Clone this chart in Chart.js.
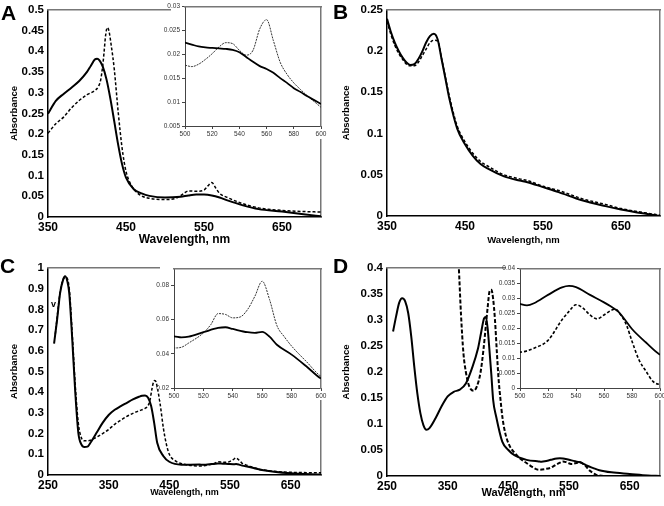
<!DOCTYPE html>
<html>
<head>
<meta charset="utf-8">
<script src="https://cdn.jsdelivr.net/npm/chart.js@4.4.1/dist/chart.umd.min.js"></script>
<style>
  body { margin: 0; background: #fff; }
  #wrap { position: relative; width: 664px; height: 506px; overflow: hidden; }
  #wrap canvas { position: absolute; }
  .tag { position: absolute; font: bold 21px "Liberation Sans", Arial, sans-serif; line-height: 1; color: #000; }
  .mark { position: absolute; font: bold 9px "Liberation Sans", Arial, sans-serif; line-height: 1; color: #000; }
</style>
</head>
<body>
<div id="wrap">
  <canvas id="mainA"></canvas>
  <canvas id="mainB"></canvas>
  <canvas id="mainC"></canvas>
  <canvas id="mainD"></canvas>
  <canvas id="insetA"></canvas>
  <canvas id="insetC"></canvas>
  <canvas id="insetD"></canvas>
  <div class="tag" style="left:1px;top:2px">A</div>
  <div class="tag" style="left:333px;top:1px">B</div>
  <div class="tag" style="left:0px;top:255px">C</div>
  <div class="tag" style="left:333px;top:255px">D</div>
  <div class="mark" style="left:51px;top:300px">v</div>
</div>
<script>
// ---- panel A ----
const aWl = [350, 360, 370, 380, 390, 400, 405, 410, 413, 416, 420, 425, 430, 435, 440, 445, 450, 460, 470, 480, 500, 520, 530, 540, 550, 560, 570, 580, 600, 620, 650, 680, 700];
const aSolid = [0.249, 0.28, 0.297, 0.312, 0.328, 0.35, 0.365, 0.38, 0.382, 0.378, 0.364, 0.332, 0.285, 0.23, 0.174, 0.127, 0.095, 0.067, 0.057, 0.051, 0.047, 0.049, 0.052, 0.054, 0.054, 0.052, 0.047, 0.04, 0.028, 0.019, 0.013, 0.006, 0.002];
const aDashWl = [350, 360, 370, 380, 390, 400, 410, 415, 418, 421, 424, 426, 428, 431, 435, 440, 445, 450, 455, 460, 470, 480, 500, 515, 525, 530, 540, 550, 555, 560, 565, 570, 580, 600, 620, 650, 680, 700];
const aDash = [0.202, 0.225, 0.241, 0.263, 0.281, 0.295, 0.305, 0.316, 0.335, 0.38, 0.44, 0.457, 0.45, 0.415, 0.356, 0.253, 0.166, 0.11, 0.083, 0.067, 0.051, 0.045, 0.042, 0.046, 0.058, 0.063, 0.062, 0.065, 0.075, 0.083, 0.07, 0.057, 0.047, 0.032, 0.022, 0.016, 0.013, 0.012];
const aXTicks = [350, 450, 550, 650];
const aYTicks = [0, 0.05, 0.1, 0.15, 0.2, 0.25, 0.3, 0.35, 0.4, 0.45, 0.5];

// inset A (separate trace, 500-600 nm)
const iaWl = [500, 505, 510, 515, 520, 525, 530, 535, 540, 545, 550, 555, 560, 565, 570, 575, 580, 585, 590, 595, 600];
const iaSolid = [0.0224, 0.022, 0.0216, 0.0214, 0.0213, 0.0212, 0.0211, 0.0209, 0.0204, 0.0194, 0.0184, 0.0175, 0.0169, 0.0161, 0.015, 0.014, 0.0129, 0.0121, 0.0112, 0.0104, 0.0096];
const iaDash = [0.0177, 0.0174, 0.0179, 0.0189, 0.0201, 0.0215, 0.0224, 0.0222, 0.0208, 0.0198, 0.0208, 0.0253, 0.0272, 0.0228, 0.0183, 0.0158, 0.014, 0.0126, 0.0113, 0.0101, 0.0089];
const iXTicks = [500, 520, 540, 560, 580, 600];
const iaYTicks = [0.005, 0.01, 0.015, 0.02, 0.025, 0.03];

// ---- panel B ----
const bWl = [350, 355, 360, 365, 370, 375, 380, 385, 390, 395, 400, 405, 410, 415, 420, 425, 430, 440, 450, 460, 470, 480, 500, 520, 530, 550, 570, 600, 630, 650, 680, 700];
const bSolid = [0.239, 0.223, 0.21, 0.2, 0.192, 0.186, 0.183, 0.184, 0.19, 0.199, 0.21, 0.218, 0.221, 0.214, 0.19, 0.166, 0.142, 0.106, 0.087, 0.073, 0.063, 0.057, 0.048, 0.043, 0.041, 0.035, 0.029, 0.019, 0.012, 0.008, 0.003, 0];
const bDash = [0.236, 0.22, 0.207, 0.197, 0.19, 0.184, 0.182, 0.182, 0.186, 0.194, 0.202, 0.21, 0.213, 0.212, 0.191, 0.168, 0.145, 0.109, 0.09, 0.076, 0.066, 0.06, 0.05, 0.045, 0.043, 0.036, 0.031, 0.021, 0.014, 0.009, 0.004, 0.001];
const bYTicks = [0, 0.05, 0.1, 0.15, 0.2, 0.25];

// ---- panel C ----
const cWl = [260, 265, 270, 275, 278, 282, 285, 290, 295, 300, 305, 310, 315, 320, 330, 340, 350, 360, 370, 380, 390, 400, 405, 410, 415, 420, 425, 430, 440, 450, 470, 500, 505, 510, 520, 530, 535, 540, 550, 555, 560, 565, 570, 580, 590, 600, 650, 700];
const cSolid = [0.635, 0.75, 0.88, 0.944, 0.96, 0.935, 0.88, 0.654, 0.397, 0.204, 0.148, 0.135, 0.137, 0.156, 0.204, 0.252, 0.29, 0.315, 0.333, 0.349, 0.365, 0.378, 0.383, 0.384, 0.373, 0.333, 0.252, 0.156, 0.092, 0.064, 0.05, 0.0502, 0.0496, 0.05, 0.0526, 0.0551, 0.0555, 0.0545, 0.0526, 0.0522, 0.0528, 0.05, 0.0453, 0.0395, 0.0327, 0.0255, 0.008, 0.003];
const cDashWl = [262, 265, 270, 275, 280, 285, 290, 295, 300, 305, 310, 320, 330, 340, 350, 360, 370, 380, 390, 400, 410, 415, 418, 421, 424, 426, 428, 431, 435, 440, 445, 450, 460, 470, 480, 500, 505, 510, 520, 525, 530, 535, 540, 545, 550, 555, 560, 565, 570, 575, 580, 590, 600, 650, 700];
const cDash = [0.68, 0.76, 0.885, 0.945, 0.955, 0.9, 0.68, 0.43, 0.25, 0.18, 0.165, 0.168, 0.183, 0.2, 0.22, 0.245, 0.265, 0.283, 0.298, 0.31, 0.322, 0.335, 0.36, 0.41, 0.45, 0.456, 0.45, 0.41, 0.34, 0.23, 0.15, 0.1, 0.068, 0.055, 0.048, 0.0434, 0.0438, 0.0463, 0.0522, 0.057, 0.0635, 0.063, 0.061, 0.0615, 0.0658, 0.0736, 0.0824, 0.0717, 0.0565, 0.05, 0.0445, 0.0355, 0.0268, 0.013, 0.011];
const cdXTicks = [250, 350, 450, 550, 650];
const cYTicks = [0, 0.1, 0.2, 0.3, 0.4, 0.5, 0.6, 0.7, 0.8, 0.9, 1];
const icYTicks = [0.02, 0.04, 0.06, 0.08];

// ---- panel D ----
const dWl = [260, 265, 270, 275, 280, 285, 290, 295, 300, 305, 310, 315, 320, 330, 340, 350, 360, 370, 380, 390, 400, 405, 410, 413, 416, 419, 422, 425, 430, 440, 450, 460, 480, 500, 505, 510, 520, 530, 535, 540, 550, 560, 565, 570, 575, 580, 590, 600, 620, 650, 680, 700];
const dSolid = [0.278, 0.307, 0.333, 0.342, 0.336, 0.313, 0.268, 0.21, 0.159, 0.121, 0.098, 0.089, 0.092, 0.111, 0.134, 0.153, 0.162, 0.166, 0.178, 0.207, 0.245, 0.275, 0.303, 0.306, 0.283, 0.24, 0.195, 0.146, 0.114, 0.066, 0.05, 0.04, 0.031, 0.0281, 0.0276, 0.0283, 0.0311, 0.0336, 0.0341, 0.0337, 0.0311, 0.0286, 0.0272, 0.0256, 0.0228, 0.0197, 0.0152, 0.0111, 0.007, 0.004, 0.001, 0];
const dDashWl = [360, 365, 368, 372, 376, 380, 384, 388, 393, 398, 404, 409, 413, 416, 419, 422, 425, 428, 431, 434, 437, 440, 445, 453, 460, 470, 480, 490, 500, 510, 520, 530, 535, 540, 545, 550, 555, 560, 565, 568, 572, 576, 580, 585, 590, 595, 600, 610, 650, 700];
const dDash = [0.57, 0.47, 0.41, 0.31, 0.236, 0.2, 0.178, 0.167, 0.164, 0.172, 0.198, 0.243, 0.29, 0.325, 0.355, 0.358, 0.34, 0.3, 0.24, 0.185, 0.148, 0.115, 0.082, 0.056, 0.045, 0.033, 0.025, 0.017, 0.012, 0.0133, 0.0159, 0.0228, 0.0256, 0.0278, 0.0267, 0.0244, 0.0231, 0.0244, 0.0259, 0.0263, 0.0244, 0.0211, 0.0156, 0.0094, 0.0056, 0.0022, 0.0011, 0, 0, 0];
const dYTicks = [0, 0.05, 0.1, 0.15, 0.2, 0.25, 0.3, 0.35, 0.4];
const idYTicks = [0, 0.005, 0.01, 0.015, 0.02, 0.025, 0.03, 0.035, 0.04];

const FONT = '"Liberation Sans", Arial, sans-serif';
const pts = (xs, ys) => xs.map((x, i) => ({ x: x, y: ys[i] }));

// white backing behind the insets
const backing = {
  id: 'backing',
  beforeDraw(chart, args, opts) {
    if (!opts.on) return;
    const a = chart.chartArea, ctx = chart.ctx;
    ctx.save();
    ctx.fillStyle = '#fff';
    ctx.fillRect(a.left - 14, a.top - 5, a.right - a.left + 15, a.bottom - a.top + 18);
    ctx.restore();
  }
};

// an axis that only draws the grey top / right edge of the box
const edge = (pos, min, max) => ({
  type: 'linear', position: pos, min: min, max: max,
  ticks: { display: false },
  grid: { drawOnChartArea: false, drawTicks: false },
  border: { display: true, color: '#777', width: 1.5 },
  afterFit: s => { if (pos === 'top') s.height = 0; else s.width = 0; }
});

function spectrum(id, box, area, datasets, ax, inset) {
  const cv = document.getElementById(id);
  cv.width = box.w; cv.height = box.h;
  cv.style.left = box.x + 'px'; cv.style.top = box.y + 'px';
  const yW = area.l - box.x, xH = box.y + box.h - area.b;
  const tickFont = inset ? { family: FONT, size: 6.5, lineHeight: 1 } : { family: FONT, size: 11.5, weight: 'bold', lineHeight: 1 };
  const tickColor = inset ? '#333' : '#000';
  return new Chart(cv, {
    type: 'line',
    data: { datasets: datasets },
    options: {
      responsive: false,
      animation: false,
      events: [],
      layout: { padding: { left: 0, top: area.t - box.y, right: box.x + box.w - area.r, bottom: 0 } },
      elements: { point: { radius: 0 }, line: { cubicInterpolationMode: 'monotone' } },
      plugins: {
        legend: { display: false },
        tooltip: { enabled: false },
        backing: { on: inset }
      },
      scales: {
        x: {
          type: 'linear', min: ax.xMin, max: ax.xMax,
          afterBuildTicks: s => { s.ticks = ax.xTicks.map(v => ({ value: v })); },
          afterFit: s => { s.height = xH; },
          ticks: { font: inset ? tickFont : { ...tickFont, size: 12 }, color: tickColor, padding: inset ? 2 : 5, maxRotation: 0, autoSkip: false, callback: v => String(v) },
          grid: { drawOnChartArea: false, drawTicks: inset, tickLength: 3, color: '#444' },
          border: { display: true, color: inset ? '#444' : '#000', width: inset ? 1 : 1.5 },
          title: inset ? { display: false } : {
            display: true, text: 'Wavelength, nm', color: '#000',
            font: { family: FONT, size: ax.xTitle, weight: 'bold', lineHeight: 1.2 },
            padding: { top: 0, bottom: 13 - ax.xTitle * 0.6 }
          }
        },
        y: {
          type: 'linear', min: ax.yMin, max: ax.yMax,
          afterBuildTicks: s => { s.ticks = ax.yTicks.map(v => ({ value: v })); },
          afterFit: s => { s.width = yW; },
          ticks: { font: tickFont, color: tickColor, padding: inset ? 2 : 4, autoSkip: false, callback: v => String(v) },
          grid: { drawOnChartArea: false, drawTicks: inset, tickLength: 3, color: '#444' },
          border: { display: true, color: inset ? '#444' : '#000', width: inset ? 1 : 1.5 },
          title: inset ? { display: false } : {
            display: true, text: 'Absorbance', color: '#000',
            font: { family: FONT, size: 9.5, weight: 'bold', lineHeight: 1.2 },
            padding: { top: 9, bottom: 0 }
          }
        },
        xTop: edge('top', ax.xMin, ax.xMax),
        yRight: edge('right', ax.yMin, ax.yMax)
      }
    },
    plugins: [backing]
  });
}

const solid = (xs, ys, w) => ({ data: pts(xs, ys), borderColor: '#000', borderWidth: w || 2, fill: false });
const dashed = (xs, ys, w, dash, col) => ({ data: pts(xs, ys), borderColor: col || '#000', borderWidth: w, borderDash: dash, fill: false });

spectrum('mainA', { x: 0, y: 0, w: 332, h: 253 }, { l: 48, t: 6, r: 321, b: 217 },
  [solid(aWl, aSolid), dashed(aDashWl, aDash, 1.5, [3, 2])],
  { xMin: 350, xMax: 700, xTicks: aXTicks, yMin: 0, yMax: 0.5, yTicks: aYTicks, xTitle: 12 }, false);

spectrum('mainB', { x: 332, y: 0, w: 332, h: 253 }, { l: 387, t: 6, r: 660, b: 216 },
  [solid(bWl, bSolid), dashed(bWl, bDash, 1.5, [3, 2])],
  { xMin: 350, xMax: 700, xTicks: aXTicks, yMin: 0, yMax: 0.25, yTicks: bYTicks, xTitle: 9.5 }, false);

spectrum('mainC', { x: 0, y: 253, w: 332, h: 253 }, { l: 48, t: 268, r: 321, b: 475 },
  [solid(cWl, cSolid), dashed(cDashWl, cDash, 1.5, [3, 2])],
  { xMin: 250, xMax: 700, xTicks: cdXTicks, yMin: 0, yMax: 1, yTicks: cYTicks, xTitle: 9 }, false);

spectrum('mainD', { x: 332, y: 253, w: 332, h: 253 }, { l: 387, t: 268, r: 660, b: 476 },
  [solid(dWl, dSolid), dashed(dDashWl, dDash, 2, [4, 2])],
  { xMin: 250, xMax: 700, xTicks: cdXTicks, yMin: 0, yMax: 0.4, yTicks: dYTicks, xTitle: 11 }, false);

spectrum('insetA', { x: 160, y: 1, w: 175, h: 138 }, { l: 185, t: 6, r: 321, b: 126 },
  [solid(iaWl, iaSolid, 1.8), dashed(iaWl, iaDash, 1, [2, 1], '#333')],
  { xMin: 500, xMax: 600, xTicks: iXTicks, yMin: 0.005, yMax: 0.03, yTicks: iaYTicks }, true);

spectrum('insetC', { x: 149, y: 263, w: 186, h: 137 }, { l: 174, t: 268, r: 321, b: 388 },
  [solid(cWl, cSolid, 1.8), dashed(cDashWl, cDash, 1, [2, 1], '#333')],
  { xMin: 500, xMax: 600, xTicks: iXTicks, yMin: 0.02, yMax: 0.09, yTicks: icYTicks }, true);

spectrum('insetD', { x: 495, y: 263, w: 180, h: 137 }, { l: 520, t: 268, r: 660, b: 388 },
  [solid(dWl, dSolid, 1.8), dashed(dDashWl, dDash, 1.6, [3, 2])],
  { xMin: 500, xMax: 600, xTicks: iXTicks, yMin: 0, yMax: 0.04, yTicks: idYTicks }, true);
</script>
</body>
</html>
